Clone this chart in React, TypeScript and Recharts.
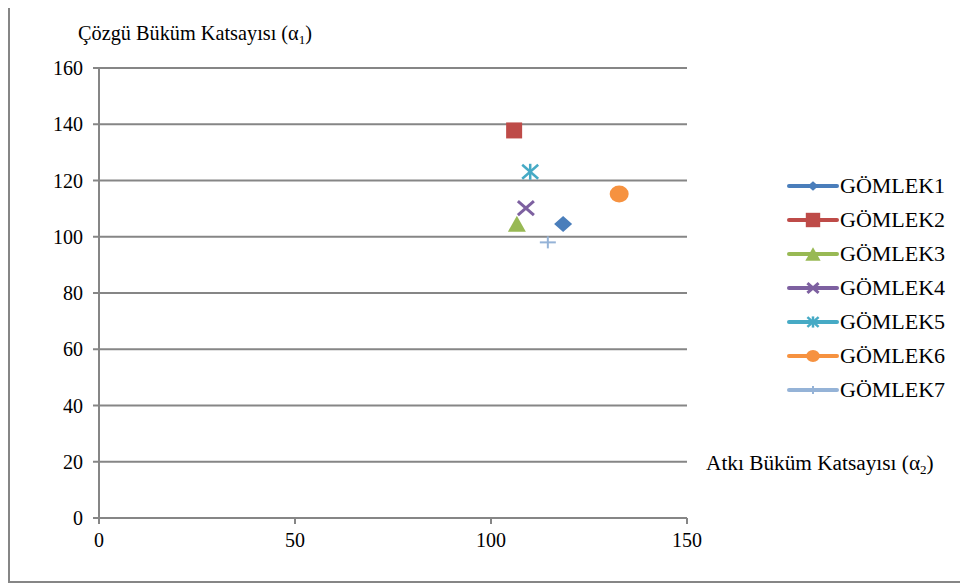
import React from 'react';
import { ScatterChart, Scatter, XAxis, YAxis, CartesianGrid, Legend, Label } from 'recharts';

const seriesNames = ['GÖMLEK1', 'GÖMLEK2', 'GÖMLEK3', 'GÖMLEK4', 'GÖMLEK5', 'GÖMLEK6', 'GÖMLEK7'];
const seriesColors = ['#4A7EBB', '#BE4B48', '#98B954', '#7D60A0', '#46AAC5', '#F69240', '#95B3D7'];
const seriesShapes = ['diamond', 'square', 'triangle', 'cross', 'star', 'circle', 'plus'];
const legendMarkerScale = [0.6, 0.9, 0.85, 0.7, 0.7, 0.72, 0.65];
const xValues = [118.4, 105.9, 106.6, 108.9, 110.0, 132.7, 114.5];
const yValues = [104.5, 137.8, 104.6, 110.2, 123.1, 115.2, 98.0];
const xTicks = [0, 50, 100, 150];
const yTicks = [0, 20, 40, 60, 80, 100, 120, 140, 160];

const FONT = 'Liberation Serif';
const AXIS = '#868686';

function Marker({ kind, cx, cy, color, s = 1 }: { kind: string; cx: number; cy: number; color: string; s?: number }) {
  switch (kind) {
    case 'diamond':
      return <polygon points={`${cx},${cy - 8 * s} ${cx + 9 * s},${cy} ${cx},${cy + 8 * s} ${cx - 9 * s},${cy}`} fill={color} />;
    case 'square':
      return <rect x={cx - 8 * s} y={cy - 8 * s} width={16 * s} height={16 * s} fill={color} />;
    case 'triangle':
      return <polygon points={`${cx},${cy - 8 * s} ${cx + 9 * s},${cy + 8 * s} ${cx - 9 * s},${cy + 8 * s}`} fill={color} />;
    case 'cross':
      return (
        <g stroke={color} strokeWidth={3}>
          <line x1={cx - 8 * s} y1={cy - 7 * s} x2={cx + 8 * s} y2={cy + 7 * s} />
          <line x1={cx - 8 * s} y1={cy + 7 * s} x2={cx + 8 * s} y2={cy - 7 * s} />
        </g>
      );
    case 'star':
      return (
        <g stroke={color} strokeWidth={2.5}>
          <line x1={cx - 8 * s} y1={cy - 7 * s} x2={cx + 8 * s} y2={cy + 7 * s} />
          <line x1={cx - 8 * s} y1={cy + 7 * s} x2={cx + 8 * s} y2={cy - 7 * s} />
          <line x1={cx} y1={cy - 8 * s} x2={cx} y2={cy + 8 * s} />
        </g>
      );
    case 'circle':
      return <ellipse cx={cx} cy={cy} rx={9.5 * s} ry={8.5 * s} fill={color} />;
    case 'plus':
    default:
      return (
        <g stroke={color} strokeWidth={2}>
          <line x1={cx - 8 * s} y1={cy} x2={cx + 8 * s} y2={cy} />
          <line x1={cx} y1={cy - 6 * s} x2={cx} y2={cy + 6 * s} />
        </g>
      );
  }
}

function LegendContent(props: any) {
  const payload = props.payload || [];
  return (
    <div style={{ fontFamily: FONT }}>
      {payload.map((entry: any) => {
        const i = seriesNames.indexOf(entry.value);
        const color = seriesColors[i];
        return (
          <div key={entry.value} style={{ display: 'flex', alignItems: 'center', height: 34 }}>
            <svg width={54} height={34} style={{ display: 'block' }}>
              <line x1={3} y1={17} x2={51} y2={17} stroke={color} strokeWidth={4} strokeLinecap="round" />
              <Marker kind={seriesShapes[i]} cx={27} cy={17} color={color} s={legendMarkerScale[i]} />
            </svg>
            <span style={{ fontFamily: FONT, fontSize: 22, color: '#000', lineHeight: '34px', whiteSpace: 'nowrap' }}>{entry.value}</span>
          </div>
        );
      })}
    </div>
  );
}

const tickStyle = { fill: '#000', fontSize: 20, fontFamily: FONT, style: { fontFamily: FONT } };

export default function App() {
  return (
    <div
      style={{
        marginTop: -8,
        width: 962,
        height: 580,
        border: `2px solid ${AXIS}`,
        borderTopWidth: 1,
        background: '#fff',
        fontFamily: FONT,
        overflow: 'hidden',
      }}
    >
      <ScatterChart width={958} height={578} margin={{ top: 67, right: 281, left: 0, bottom: 0 }} style={{ fontFamily: FONT }}>
        <CartesianGrid horizontal vertical={false} stroke={AXIS} strokeWidth={2} />
        <XAxis
          type="number"
          dataKey="x"
          domain={[0, 150]}
          ticks={xTicks}
          height={61}
          axisLine={{ stroke: AXIS, strokeWidth: 2 }}
          tickLine={{ stroke: AXIS, strokeWidth: 2 }}
          tickSize={6}
          tickMargin={9}
          tick={tickStyle}
        >
          <Label
            content={(p: any) => {
              const vb = p.viewBox || { x: 0, y: 0, width: 0 };
              return (
                <text x={vb.x + vb.width + 19} y={vb.y - 48} fontSize={21.3} fontFamily={FONT} style={{ fontFamily: FONT }} fill="#000">
                  Atkı Büküm Katsayısı (α
                  <tspan fontSize={13} dy={4}>2</tspan>
                  <tspan dy={-4}>)</tspan>
                </text>
              );
            }}
          />
        </XAxis>
        <YAxis
          type="number"
          dataKey="y"
          domain={[0, 160]}
          ticks={yTicks}
          width={89}
          axisLine={{ stroke: AXIS, strokeWidth: 2 }}
          tickLine={{ stroke: AXIS, strokeWidth: 2 }}
          tickSize={6}
          tickMargin={10}
          tick={tickStyle}
        >
          <Label
            content={(p: any) => {
              const vb = p.viewBox || { x: 0, y: 0 };
              return (
                <text x={vb.x + 68} y={vb.y - 28} fontSize={20.3} fontFamily={FONT} style={{ fontFamily: FONT }} fill="#000">
                  Çözgü Büküm Katsayısı (α
                  <tspan fontSize={13} dy={4}>1</tspan>
                  <tspan dy={-4}>)</tspan>
                </text>
              );
            }}
          />
        </YAxis>
        <Legend
          layout="vertical"
          align="center"
          verticalAlign="middle"
          wrapperStyle={{ left: 776, top: 168, width: 182 }}
          content={<LegendContent />}
        />
        {seriesNames.map((name, i) => (
          <Scatter
            key={name}
            name={name}
            data={[{ x: xValues[i], y: yValues[i] }]}
            fill={seriesColors[i]}
            isAnimationActive={false}
            shape={(p: any) => <Marker kind={seriesShapes[i]} cx={p.cx} cy={p.cy} color={seriesColors[i]} />}
          />
        ))}
      </ScatterChart>
    </div>
  );
}
